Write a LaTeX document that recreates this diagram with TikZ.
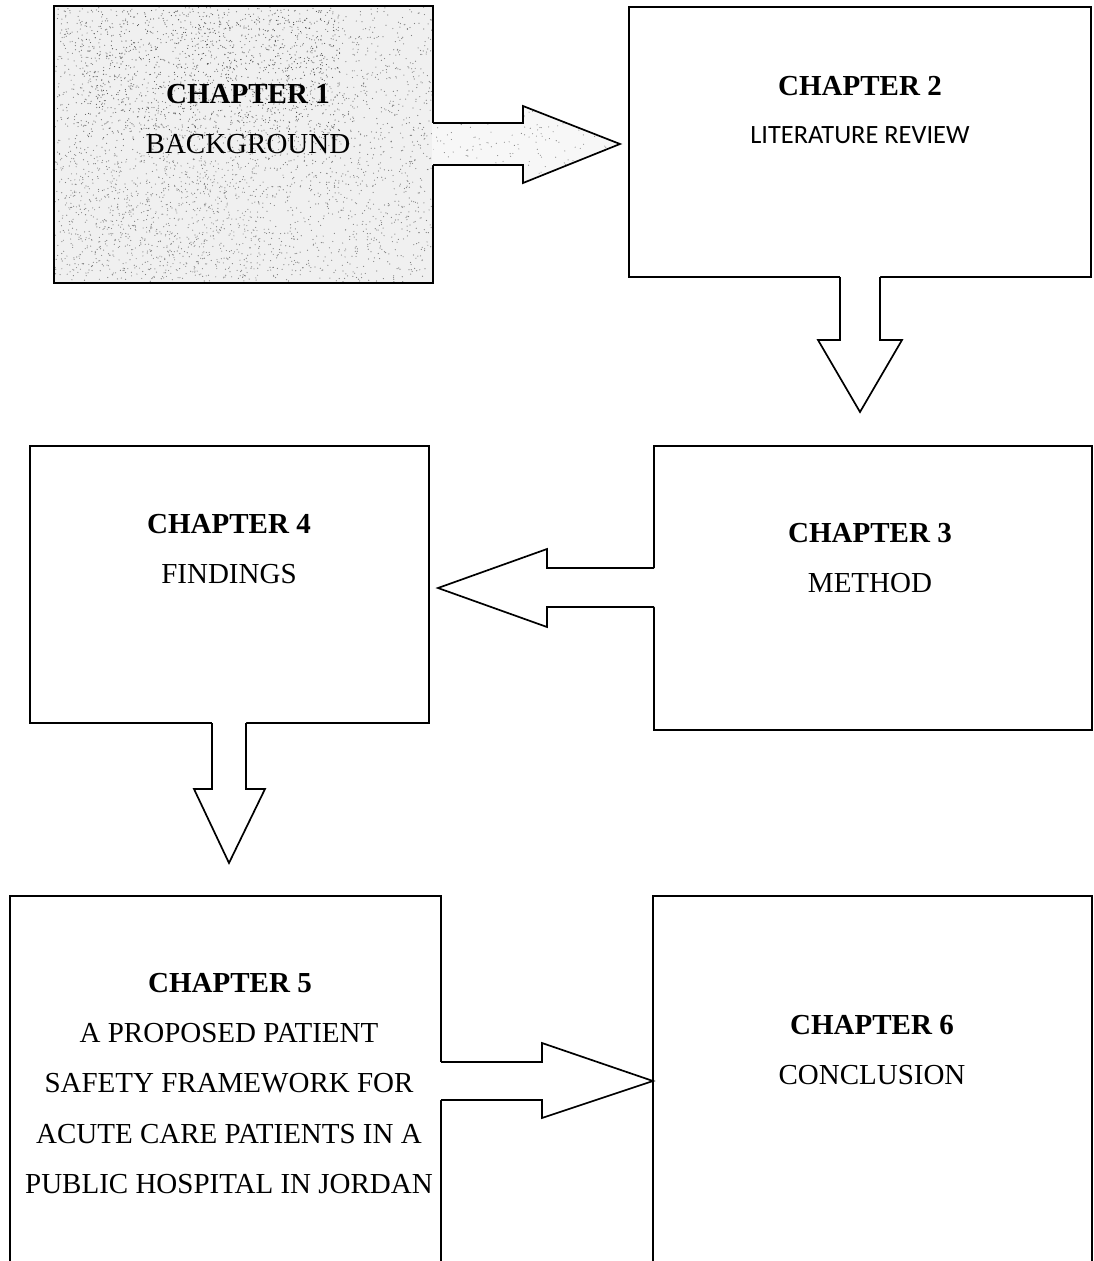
\documentclass[tikz,border=0pt]{standalone}
\usepackage{fontspec}
\setmainfont{Liberation Serif}
\newfontfamily\calibrifont{Carlito}
\usetikzlibrary{calc}
\begin{document}
\begin{tikzpicture}[x=1pt,y=-1pt,
  box/.style={draw=black, line width=1.7pt, inner sep=0pt, outer sep=0pt},
  edge/.style={draw=black, line width=1.7pt, line join=miter},
  chap/.style={font=\fontsize{29}{34}\selectfont\bfseries, anchor=base, inner sep=0pt},
  sub/.style={font=\fontsize{29}{34}\selectfont, anchor=base, inner sep=0pt},
  lit/.style={font=\calibrifont\fontsize{26.4}{32}\selectfont, anchor=base, inner sep=0pt},
  speck/.style={fill=black!50},
  speckdark/.style={fill=black!70}]
\useasboundingbox (0,0) rectangle (1093,1261);
\clip (0,0) rectangle (1093,1261);
\fill[white] (0,0) rectangle (1093,1261);
\pgfmathsetseed{4711}

% chapter boxes
\node[box, fill=black!6, minimum width=379, minimum height=277] (b1) at (243.5,144.5) {};
\node[box, minimum width=462, minimum height=270] (b2) at (860,142) {};
\node[box, minimum width=438, minimum height=284] (b3) at (873,588) {};
\node[box, minimum width=399, minimum height=277] (b4) at (229.5,584.5) {};
\node[box, minimum width=431, minimum height=404] (b5) at (225.5,1098) {};
\node[box, minimum width=439, minimum height=404] (b6) at (872.5,1098) {};

% speckled texture of the first box
\begin{scope}
  \clip ($(b1.north west)+(1,1)$) rectangle ($(b1.south east)+(-1,-1)$);
  \foreach \i in {1,...,2800}
    \fill[speck] ({55+377*rnd},{7+275*rnd}) circle (0.6);
  \foreach \i in {1,...,900}
    \fill[speckdark] ({80+260*rnd},{10+130*rnd}) circle (0.55);
  \foreach \i in {1,...,500}
    \fill[speck] ({60+200*rnd},{150+130*rnd}) circle (0.55);
\end{scope}
\draw[box] (b1.north west) rectangle (b1.south east);

% arrow 1 -> 2
\coordinate (a1s) at (b1.east |- 0,123);
\coordinate (a1e) at (b1.east |- 0,165);
\coordinate (a1t) at ($(b2.west)+(-9,2)$);
\fill[black!3] ($(a1s)+(-1,0)$) -- (523,123) -- (523,106) -- (a1t) -- (523,183) -- (523,165) -- ($(a1e)+(-1,0)$) -- cycle;
\begin{scope}
  \clip (a1s) -- (523,123) -- (523,106) -- (a1t) -- (523,183) -- (523,165) -- (a1e) -- cycle;
  \foreach \i in {1,...,170}
    \fill[speck] ({433+187*rnd},{106+77*rnd}) circle (0.55);
\end{scope}
\draw[edge] (a1s) -- (523,123) -- (523,106) -- (a1t) -- (523,183) -- (523,165) -- (a1e);

% arrow 2 -> 3
\coordinate (a2s) at (840,0 |- b2.south);
\coordinate (a2e) at (880,0 |- b2.south);
\coordinate (a2t) at ($(b3.north)+(-13,-34)$);
\fill[white] ($(a2s)+(0,-1)$) -- (840,340) -- (818,340) -- (a2t) -- (902,340) -- (880,340) -- ($(a2e)+(0,-1)$) -- cycle;
\draw[edge] (a2s) -- (840,340) -- (818,340) -- (a2t) -- (902,340) -- (880,340) -- (a2e);

% arrow 3 -> 4
\coordinate (a3s) at (b3.west |- 0,568);
\coordinate (a3e) at (b3.west |- 0,607);
\coordinate (a3t) at ($(b4.east)+(9,3.5)$);
\fill[white] ($(a3s)+(1,0)$) -- (547,568) -- (547,549) -- (a3t) -- (547,627) -- (547,607) -- ($(a3e)+(1,0)$) -- cycle;
\draw[edge] (a3s) -- (547,568) -- (547,549) -- (a3t) -- (547,627) -- (547,607) -- (a3e);

% arrow 4 -> 5
\coordinate (a4s) at (212,0 |- b4.south);
\coordinate (a4e) at (246,0 |- b4.south);
\coordinate (a4t) at ($(b5.north)+(3.5,-33)$);
\fill[white] ($(a4s)+(0,-1)$) -- (212,789) -- (194,789) -- (a4t) -- (265,789) -- (246,789) -- ($(a4e)+(0,-1)$) -- cycle;
\draw[edge] (a4s) -- (212,789) -- (194,789) -- (a4t) -- (265,789) -- (246,789) -- (a4e);

% arrow 5 -> 6
\coordinate (a5s) at (b5.east |- 0,1062);
\coordinate (a5e) at (b5.east |- 0,1100);
\coordinate (a5t) at (b6.west |- 0,1081);
\fill[white] ($(a5s)+(-1,0)$) -- (542,1062) -- (542,1043) -- (a5t) -- (542,1118) -- (542,1100) -- ($(a5e)+(-1,0)$) -- cycle;
\draw[edge] (a5s) -- (542,1062) -- (542,1043) -- (a5t) -- (542,1118) -- (542,1100) -- (a5e);

% labels
\node[chap] (c1) at (248,103) {CHAPTER 1};
\node[sub]  (s1) at (248,153) {BACKGROUND};
\node[chap] (c2) at (860,95) {CHAPTER 2};
\node[lit]  (s2) at (860,143) {LITERATURE REVIEW};
\node[chap] (c3) at (870,542) {CHAPTER 3};
\node[sub]  (s3) at (870,592) {METHOD};
\node[chap] (c4) at (229,533) {CHAPTER 4};
\node[sub]  (s4) at (229,583) {FINDINGS};
\node[chap] (c5) at (230,992) {CHAPTER 5};
\node[sub]  (s5a) at (229,1042) {A PROPOSED PATIENT};
\node[sub]  (s5b) at (229,1092) {SAFETY FRAMEWORK FOR};
\node[sub]  (s5c) at (229,1143) {ACUTE CARE PATIENTS IN A};
\node[sub]  (s5d) at (229,1193) {PUBLIC HOSPITAL IN JORDAN};
\node[chap] (c6) at (872,1034) {CHAPTER 6};
\node[sub]  (s6) at (872,1084) {CONCLUSION};
\end{tikzpicture}
\end{document}
